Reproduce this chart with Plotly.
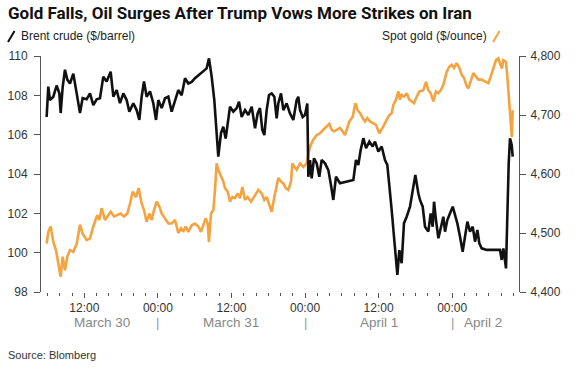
import plotly.graph_objects as go
import pandas as pd

# ---------------- data ----------------
BASE = pd.Timestamp("2026-03-30 00:00")

# hours after March 30 00:00
brent_hours = [
    5.85, 6.12, 6.39, 6.94, 7.48, 7.92, 8.14, 8.46, 8.84, 9.22,
    9.66, 10.2, 10.75, 11.29, 11.72, 12.38, 12.92, 13.46, 14.01, 14.55,
    15.09, 15.64, 16.29, 16.73, 17.27, 17.81, 18.36, 18.9, 19.34, 19.99,
    20.53, 20.97, 21.35, 21.73, 22.16, 22.71, 23.25, 23.69, 24.07, 24.61,
    25.16, 25.7,
    26.24, 26.79, 27.33, 27.87, 28.42, 28.96, 29.51, 30.05, 31.95, 32.33,
    32.77, 33.2, 33.58, 33.85, 34.29, 34.67, 35.05, 35.49, 35.76, 36.3,
    36.85, 37.23, 37.66, 38.21, 38.75, 39.3, 39.84, 40.27, 40.65, 41.03,
    41.36, 41.74, 42.12, 42.56, 42.99, 43.37, 43.64, 44.08, 44.46, 45.0,
    45.54, 46.09,
    46.63, 46.9, 47.18, 47.61, 47.99, 48.37, 48.54, 48.81, 49.08, 49.46,
    49.9, 50.33, 50.71, 51.26, 51.8, 52.18, 52.61, 53.05, 53.7, 55.88,
    56.31, 56.69, 57.07, 57.51, 57.95, 58.49, 59.03, 59.41, 59.96, 60.5,
    61.04, 61.42, 61.75, 62.13, 62.51, 62.84, 63.06, 63.38, 63.76, 64.14,
    64.58, 65.12, 65.56, 65.99, 66.48,
    66.75, 67.19, 67.57, 68.11, 68.49, 68.82, 69.04, 69.36, 69.75, 70.13,
    70.56, 70.83, 71.21, 71.65, 72.09, 72.46, 72.84, 73.28, 73.71, 74.09,
    74.48, 74.91, 75.35, 75.73, 76.11, 76.43, 76.81, 77.63, 79.8, 80.08,
    80.35, 80.78, 81.0, 81.22, 81.43, 81.71, 81.87,
]
brent_price = [
    106.9, 108.44, 107.76, 107.93, 108.5, 108.1, 107.1, 108.4, 109.3, 108.8,
    108.6, 109.1, 108.1, 107.1, 107.86, 107.8, 108.1, 107.5, 107.8, 107.85,
    108.95, 108.7, 109.2, 107.93, 108.27, 107.6, 108.1, 107.76, 107.17, 107.6,
    107.25, 106.75, 107.93, 108.7, 107.93, 108.2, 107.6, 106.75, 107.76, 107.35,
    107.85, 107.93,
    107.17, 107.76, 108.27, 108.0, 108.87, 108.6, 108.68, 108.87, 109.37, 109.88,
    108.95, 107.76, 105.9, 104.88, 106.08, 106.4, 105.8, 106.9, 107.42, 107.17,
    107.35, 107.68, 106.9, 107.25, 107.0, 107.42, 106.32, 107.08, 107.35, 106.24,
    105.98, 107.25, 108.02, 108.1, 107.93, 106.83, 107.59, 108.1, 107.25, 107.59,
    107.08, 106.75,
    107.76, 107.93, 107.25, 106.9, 107.0, 107.59, 103.86, 104.71, 103.78, 104.8,
    104.54, 103.86, 104.71, 104.54, 104.2, 103.53, 102.68, 103.86, 103.53, 103.7,
    104.71, 104.46, 105.22, 105.82, 105.31, 105.65, 105.4, 105.65, 105.14, 105.4,
    104.71, 104.46, 103.53, 102.17, 100.81, 99.46, 98.87, 100.13, 99.46, 101.5,
    101.83, 102.34, 103.19, 103.95, 103.02,
    102.68, 102.34, 101.32, 101.07, 102.0, 101.32, 102.59, 101.66, 100.73, 101.24,
    101.83, 101.07, 101.66, 102.0, 102.34, 101.92, 101.49, 100.81, 100.05, 100.81,
    101.58, 101.07, 101.32, 100.56, 101.15, 100.47, 100.22, 100.14, 100.14, 99.63,
    100.22, 99.2, 102.34, 104.54, 105.82, 105.48, 104.88,
]

gold_hours = [
    5.85, 6.12, 6.5, 6.94, 7.37, 7.75, 8.14, 8.46, 8.84, 9.22,
    9.66, 10.2, 10.75, 11.29, 11.72, 12.38, 12.92, 13.46, 14.11, 14.44,
    14.82, 15.37, 15.91, 16.29, 16.84, 17.38, 17.92, 18.47, 19.01, 19.45,
    19.88, 20.42, 20.86, 21.35, 21.73, 22.16, 22.6, 22.98, 23.36, 23.8,
    24.23, 24.61, 25.16, 25.7,
    26.24, 26.79, 27.33, 27.77, 28.14, 28.53, 28.96, 29.51, 30.05, 30.59,
    31.03, 31.41, 31.79, 32.12, 32.33, 32.66, 33.04, 33.31, 33.58, 33.85,
    34.29, 34.67, 34.94, 35.38, 35.76, 36.14, 36.57, 37.01, 37.39, 37.77,
    38.21, 38.64, 39.18, 39.56, 39.95, 40.38, 40.92, 41.36, 41.74, 42.12,
    42.56, 42.99, 43.37, 43.64, 44.08, 44.46, 44.84, 45.27, 45.71, 45.93,
    46.09,
    46.63, 47.18, 47.72, 48.27, 48.54, 48.92, 49.35, 49.9, 50.44, 50.98,
    51.53, 51.96, 52.34, 52.72, 53.16, 53.7, 54.14, 54.52, 54.79, 55.22,
    55.77, 56.2, 56.53, 56.97, 57.4, 57.78, 58.16, 58.6, 59.14, 59.58,
    60.12, 60.5, 60.88, 61.32, 61.75, 62.13, 62.4, 62.84, 63.22, 63.49,
    63.76, 64.14, 64.58, 65.01, 65.39, 65.77, 66.21, 66.64,
    67.29, 67.73, 68.11, 68.49, 68.93, 69.36, 69.75, 70.13, 70.56, 71.1,
    71.54, 71.92, 72.3, 72.73, 73.17, 73.55, 73.93, 74.37, 74.64, 75.02,
    75.45, 75.89, 76.27, 76.81, 77.36, 77.9, 78.28, 78.72, 79.15, 79.53,
    79.8, 80.08, 80.35, 80.78, 81.0, 81.22, 81.43, 81.55, 81.72, 81.87,
]
gold_price = [
    4482, 4502, 4511, 4485, 4471, 4449, 4426, 4460, 4437, 4460,
    4471, 4468, 4482, 4514, 4499, 4488, 4491, 4511, 4530, 4522,
    4542, 4522, 4530, 4536, 4528, 4530, 4533, 4528, 4533, 4550,
    4570, 4561, 4576, 4550, 4539, 4519, 4533, 4522, 4539, 4553,
    4545, 4533, 4525, 4516,
    4516, 4522, 4500, 4508, 4502, 4511, 4502, 4513, 4516, 4511,
    4502, 4513, 4525, 4516, 4485, 4533, 4539, 4573, 4618, 4607,
    4595, 4587, 4576, 4570, 4553, 4561, 4559, 4567, 4559, 4578,
    4556, 4561, 4553, 4559, 4567, 4573, 4567, 4556, 4561, 4550,
    4536, 4561, 4578, 4593, 4587, 4584, 4576, 4573, 4587, 4618,
    4615,
    4607, 4618, 4612, 4618, 4635, 4649, 4658, 4666, 4669, 4675,
    4680, 4685, 4675, 4672, 4675, 4678, 4672, 4666, 4675, 4689,
    4697, 4720, 4709, 4703, 4695, 4689, 4695, 4689, 4686, 4683,
    4669, 4675, 4683, 4692, 4700, 4703, 4717, 4726, 4740, 4726,
    4734, 4731, 4737, 4726, 4723, 4720, 4731, 4740,
    4742, 4756, 4742, 4737, 4723, 4740, 4737, 4742, 4751, 4773,
    4782, 4785, 4780, 4788, 4780, 4768, 4763, 4749, 4745, 4756,
    4771, 4765, 4760, 4760, 4757, 4754, 4765, 4779, 4793, 4796,
    4788, 4779, 4793, 4790, 4765, 4737, 4703, 4690, 4663, 4708,
]

date_labels = ["March 30", "March 31", "April 1", "April 2"]
date_label_hours = [14.9, 36.0, 60.0, 77.0]
day_break_hours = [24, 48, 72]

title_text = "Gold Falls, Oil Surges After Trump Vows More Strikes on Iran"
brent_name = "Brent crude ($/barrel)"
gold_name = "Spot gold ($/ounce)"
source_text = "Source: Blomberg"

# ---------------- layout geometry ----------------
W, H = 588, 373
L, R, T, B = 41, 69, 56, 81
PW, PH = W - L - R, H - T - B


def px(x):
    return (x - L) / PW


def py(y):
    return (H - B - y) / PH


def ts(hours):
    return BASE + pd.to_timedelta(hours, unit="h")


FONT = "Liberation Sans, Arial, sans-serif"
BLACK = "#111111"
ORANGE = "#F5A340"
AXIS = "#555555"

fig = go.Figure()
fig.add_trace(go.Scatter(
    x=ts(gold_hours), y=gold_price, mode="lines", yaxis="y",
    line=dict(color=ORANGE, width=2.6), name=gold_name, showlegend=False,
))
fig.add_trace(go.Scatter(
    x=ts(brent_hours), y=brent_price, mode="lines", yaxis="y2",
    line=dict(color=BLACK, width=2.6), name=brent_name, showlegend=False,
))

annotations = [
    dict(text="<b>" + title_text + "</b>", x=px(6), y=py(13), xref="paper", yref="paper",
         xanchor="left", yanchor="middle", showarrow=False,
         font=dict(family="Roboto, sans-serif", size=17, color="#111111")),
    dict(text=brent_name, x=px(19), y=py(36), xref="paper", yref="paper",
         xanchor="left", yanchor="middle", showarrow=False,
         font=dict(family=FONT, size=12, color="#222222")),
    dict(text=gold_name, x=px(489), y=py(36), xref="paper", yref="paper",
         xanchor="right", yanchor="middle", showarrow=False,
         font=dict(family=FONT, size=12, color="#222222")),
    dict(text=source_text, x=px(6), y=py(355), xref="paper", yref="paper",
         xanchor="left", yanchor="middle", showarrow=False,
         font=dict(family=FONT, size=11, color="#333333")),
]
for lab, h in zip(date_labels, date_label_hours):
    annotations.append(dict(text=lab, x=ts(h), y=py(322), xref="x", yref="paper",
                            xanchor="center", yanchor="middle", showarrow=False,
                            font=dict(family=FONT, size=13.5, color="#888888")))
for h in day_break_hours:
    annotations.append(dict(text="|", x=ts(h), y=py(322), xref="x", yref="paper",
                            xanchor="center", yanchor="middle", showarrow=False,
                            font=dict(family=FONT, size=13, color="#999999")))

shapes = [
    dict(type="line", xref="paper", yref="paper", x0=px(8), y0=py(42), x1=px(14.5), y1=py(31),
         line=dict(color=BLACK, width=2)),
    dict(type="line", xref="paper", yref="paper", x0=px(493), y0=py(42), x1=px(499.5), y1=py(31),
         line=dict(color=ORANGE, width=2)),
]

fig.update_layout(
    width=W, height=H,
    margin=dict(l=L, r=R, t=T, b=B, pad=0, autoexpand=False),
    paper_bgcolor="white", plot_bgcolor="white",
    showlegend=False,
    font=dict(family=FONT, size=12, color="#333333"),
    annotations=annotations,
    shapes=shapes,
    xaxis=dict(
        type="date", automargin=False,
        range=[ts(4.93), ts(82.9)],
        tickmode="linear", tick0=BASE, dtick=12 * 3600 * 1000,
        tickformat="%H:%M",
        ticks="outside", ticklen=5, tickcolor=AXIS, tickwidth=1,
        showline=False, showgrid=False, zeroline=False,
        tickfont=dict(family=FONT, size=12, color="#333333"),
        minor=dict(tickmode="linear", tick0=BASE, dtick=2 * 3600 * 1000,
                   ticks="outside", ticklen=3, tickcolor=AXIS, tickwidth=1, showgrid=False),
    ),
    yaxis=dict(
        side="right", automargin=False, range=[4400, 4800], tickmode="linear", tick0=4400, dtick=100,
        tickformat=",d", ticks="outside", ticklen=6, tickcolor=AXIS,
        showline=True, linecolor=AXIS, linewidth=1, ticklabelstandoff=2,
        showgrid=False, zeroline=False,
        tickfont=dict(family=FONT, size=12, color="#333333"),
    ),
    yaxis2=dict(
        side="left", overlaying="y", automargin=False, range=[98, 110], tickmode="linear", tick0=98, dtick=2,
        ticks="outside", ticklen=6, tickcolor=AXIS, ticklabelstandoff=4,
        showline=True, linecolor=AXIS, linewidth=1,
        showgrid=False, zeroline=False,
        tickfont=dict(family=FONT, size=12, color="#333333"),
    ),
)

fig.write_html("out.html", config={"displayModeBar": False},
               post_script="document.body.style.margin='0';")
